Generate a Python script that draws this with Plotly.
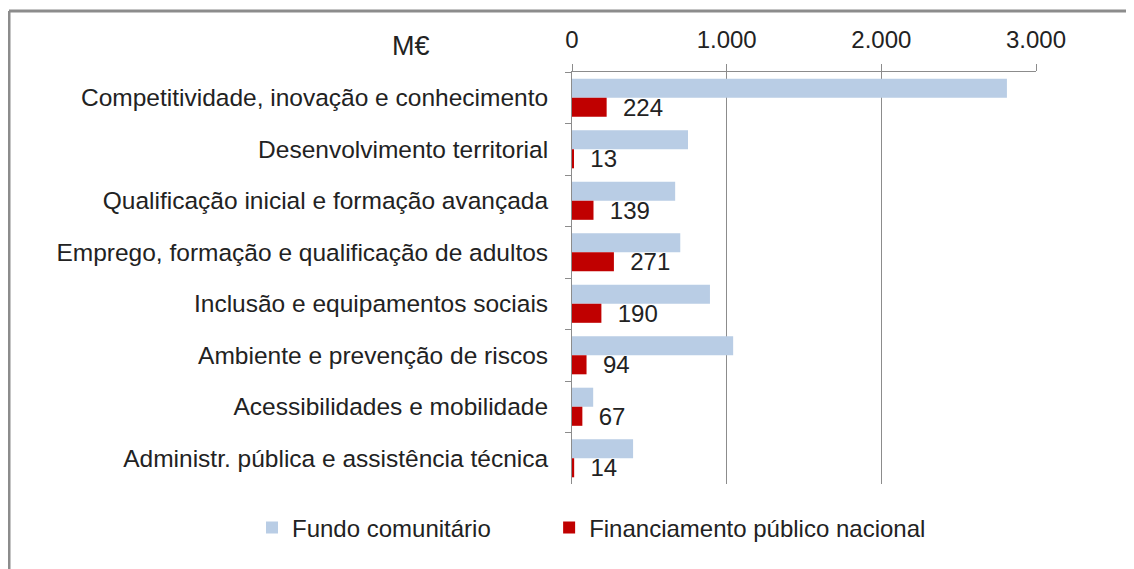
import plotly.graph_objects as go

categories = [
    "Competitividade, inovação e conhecimento",
    "Desenvolvimento territorial",
    "Qualificação inicial e formação avançada",
    "Emprego, formação e qualificação de adultos",
    "Inclusão e equipamentos sociais",
    "Ambiente e prevenção de riscos",
    "Acessibilidades e mobilidade",
    "Administr. pública e assistência técnica",
]
fundo_comunitario = [2812, 750, 667, 700, 892, 1042, 137, 395]
financiamento_nacional = [224, 13, 139, 271, 190, 94, 67, 14]
x_ticks = [0, 1000, 2000, 3000]
series_names = ["Fundo comunitário", "Financiamento público nacional"]

FONT = "Liberation Sans"
GRAY = "#8c8c8c"
TXT = "#222"
FS = 24
PAD = "\u00a0" * 8  # spacing between legend entries

# page body has an 8px margin; work in figure coordinates = reference - 8
OFF = 8
W, H = 1134 - OFF, 569 - OFF
L, R, T, B = 572 - OFF, 1036 - OFF, 72 - OFF, 484 - OFF
px_x = lambda p: (p - OFF - L) / (R - L)
px_y = lambda p: (B - (p - OFF)) / (B - T)

fig = go.Figure()
fig.add_trace(go.Bar(
    y=categories, x=fundo_comunitario, orientation="h",
    name=series_names[0] + PAD, marker=dict(color="#b9cde5", line=dict(width=0)),
))
fig.add_trace(go.Bar(
    y=categories, x=financiamento_nacional, orientation="h",
    name=series_names[1], marker=dict(color="#c00000", line=dict(width=0)),
    text=["  " + str(v) for v in financiamento_nacional], textposition="outside",
    constraintext="none",
    textfont=dict(family=FONT, size=FS, color=TXT), cliponaxis=False,
))

fig.update_layout(
    width=W, height=H,
    margin=dict(l=L, r=W - R, t=T, b=H - B, autoexpand=False),
    plot_bgcolor="white", paper_bgcolor="white",
    barmode="group", bargap=0.26, bargroupgap=0,
    separators=",.",
    font=dict(family=FONT, size=FS, color=TXT),
    showlegend=True,
    legend=dict(orientation="h", xref="paper", yref="paper",
                x=px_x(252), xanchor="left", y=px_y(528), yanchor="middle",
                font=dict(family=FONT, size=FS, color=TXT), traceorder="normal",
                itemwidth=30),
    xaxis=dict(side="top", range=[0, 3000], tickvals=x_ticks, tickformat=",d",
               showgrid=True, gridcolor=GRAY, gridwidth=1,
               showline=True, linecolor=GRAY, linewidth=1,
               ticks="outside", ticklen=7, tickcolor=GRAY, ticklabelstandoff=6,
               zeroline=False, tickfont=dict(family=FONT, size=FS, color=TXT)),
    yaxis=dict(autorange="reversed", showline=True, linecolor=GRAY, linewidth=1,
               ticks="outside", ticklen=6, tickcolor=GRAY, tickson="boundaries",
               showgrid=False, ticklabelstandoff=18,
               tickfont=dict(family=FONT, size=24.5, color=TXT)),
    annotations=[dict(text="M€", x=px_x(411), y=px_y(46), xref="paper", yref="paper",
                      xanchor="center", yanchor="middle",
                      showarrow=False, font=dict(family=FONT, size=27, color=TXT))],
    shapes=[
        dict(type="line", xref="paper", yref="paper", x0=px_x(9), x1=px_x(1300), y0=px_y(11), y1=px_y(11),
             line=dict(color=GRAY, width=3)),
        dict(type="line", xref="paper", yref="paper", x0=px_x(9), x1=px_x(9), y0=px_y(11), y1=px_y(700),
             line=dict(color=GRAY, width=3)),
    ],
)

fig.write_html("out.html")
